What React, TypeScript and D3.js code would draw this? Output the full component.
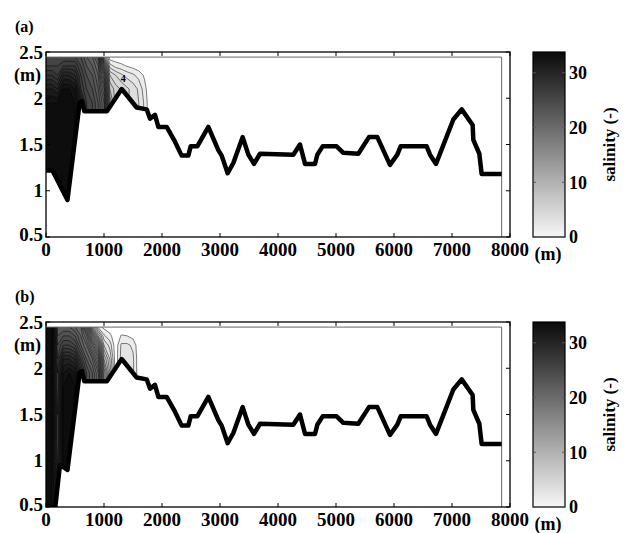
import React from 'react';
import * as d3 from 'd3';

// distance along the channel (m) and height (m) of the salinity grid
const gridX = [0, 100, 200, 300, 400, 500, 600, 700, 800, 900, 1000, 1100, 1200, 1300, 1400, 1500, 1600, 1700, 1800, 1900];
const gridZ = [0.5, 0.9, 1.2, 1.5, 1.8, 1.95, 2.1, 2.25, 2.35, 2.45];

// salinity per grid column, bottom -> top (cells under the bed are clipped away)
const salinityA = [
  [33, 33, 33, 33, 33, 33, 31, 28, 26, 25],
  [33, 33, 33, 33, 33, 33, 31, 28, 26, 25],
  [33, 33, 33, 33, 33, 33, 30, 27, 26, 25],
  [33, 33, 33, 33, 33, 33, 33, 30, 27, 25],
  [33, 33, 33, 33, 33, 33, 33, 30, 27, 25],
  [33, 33, 33, 33, 33, 33, 32, 29, 27, 25],
  [30, 30, 30, 30, 30, 30, 27, 26, 25, 24],
  [26, 26, 26, 26, 26, 26, 25, 24, 23, 22],
  [25, 25, 25, 25, 25, 25, 24, 23, 22, 21],
  [23, 23, 23, 23, 23, 23, 22, 21, 20, 18],
  [20, 20, 20, 20, 20, 20, 18, 15, 11, 5],
  [9, 9, 9, 9, 9, 9, 7, 5, 2.5, 0.2],
  [5.5, 5.5, 5.5, 5.5, 5.5, 5.5, 5.5, 4, 1.6, 0.2],
  [4.8, 4.8, 4.8, 4.8, 4.8, 4.8, 4.8, 3.2, 1.3, 0],
  [4.2, 4.2, 4.2, 4.2, 4.2, 4.2, 4.2, 2.6, 0.9, 0],
  [3.6, 3.6, 3.6, 3.6, 3.6, 3.6, 3.6, 2.2, 0.6, 0],
  [3, 3, 3, 3, 3, 3, 2.8, 1.6, 0.3, 0],
  [1.8, 1.8, 1.8, 1.8, 1.8, 1.8, 1.4, 0.8, 0, 0],
  [0, 0, 0, 0, 0, 0, 0, 0, 0, 0],
  [0, 0, 0, 0, 0, 0, 0, 0, 0, 0],
];

const salinityB = [
  [33, 33, 33, 33, 33, 33, 33, 33, 33, 33],
  [33, 33, 33, 33, 33, 33, 33, 33, 33, 33],
  [31, 28, 27, 27, 26, 26, 25, 24, 23, 22],
  [33, 33, 33, 33, 33, 32, 30, 26, 24, 22],
  [33, 33, 33, 33, 33, 33, 30, 26, 24, 22],
  [33, 33, 33, 33, 33, 32, 29, 25, 23, 21],
  [28, 28, 28, 28, 28, 28, 25, 22, 21, 20],
  [24, 24, 24, 24, 24, 24, 22, 20, 18, 14],
  [22, 22, 22, 22, 22, 22, 20, 16, 12, 6],
  [19, 19, 19, 19, 19, 19, 16, 11, 6, 1.5],
  [10, 10, 10, 10, 10, 10, 7, 4, 2.2, 0.6],
  [5, 5, 5, 5, 5, 5, 4, 2.6, 1.3, 0.3],
  [0.3, 0.3, 0.3, 0.3, 0.3, 0.3, 0.3, 0.3, 0.3, 0.2],
  [2.4, 2.4, 2.4, 2.4, 2.4, 2.4, 2.4, 2.2, 1.1, 0.2],
  [2.6, 2.6, 2.6, 2.6, 2.6, 2.6, 2.6, 2.2, 1.0, 0],
  [2.2, 2.2, 2.2, 2.2, 2.2, 2.2, 2.2, 1.8, 0.6, 0],
  [0.3, 0.3, 0.3, 0.3, 0.3, 0.3, 0.3, 0.2, 0, 0],
  [0, 0, 0, 0, 0, 0, 0, 0, 0, 0],
  [0, 0, 0, 0, 0, 0, 0, 0, 0, 0],
  [0, 0, 0, 0, 0, 0, 0, 0, 0, 0],
];

// bed level (x m, z m)
const bedHeadA = [[0, 1.22], [110, 1.22], [370, 0.9], [580, 1.95], [620, 1.97], [660, 1.86]];
const bedHeadB = [[0, 0.5], [160, 0.5], [240, 0.95], [300, 0.93], [370, 0.9], [580, 1.95], [620, 1.97], [660, 1.86]];
const bedTail = [
  [1050, 1.86], [1305, 2.1], [1563, 1.9], [1736, 1.88], [1793, 1.78], [1879, 1.82], [1937, 1.69],
  [2080, 1.69], [2224, 1.53], [2339, 1.38], [2454, 1.38], [2494, 1.48], [2609, 1.48], [2799, 1.69],
  [2971, 1.44], [3029, 1.38], [3132, 1.19], [3230, 1.3], [3391, 1.58], [3489, 1.39], [3586, 1.29],
  [3690, 1.4], [4264, 1.39], [4379, 1.5], [4466, 1.29], [4638, 1.29], [4678, 1.39], [4770, 1.48],
  [5011, 1.48], [5126, 1.41], [5385, 1.4], [5569, 1.58], [5713, 1.58], [5931, 1.28], [6057, 1.39],
  [6115, 1.48], [6563, 1.48], [6621, 1.39], [6724, 1.29], [7023, 1.77], [7167, 1.88], [7356, 1.71],
  [7368, 1.55], [7471, 1.4], [7511, 1.18], [7856, 1.18],
];
const bedA = bedHeadA.concat(bedTail);
const bedB = bedHeadB.concat(bedTail);

const levels = [1, 2, 3, 4, 5, 6, 7, 8, 9, 10, 11, 12, 13, 14, 15, 16, 17, 18, 19, 20, 21, 22, 23, 24, 25, 26, 27, 28, 29, 30, 31, 32, 33];
const xTicks = [0, 1000, 2000, 3000, 4000, 5000, 6000, 7000, 8000];
const yTicks = [0.5, 1, 1.5, 2, 2.5];
const cbTicks = [0, 10, 20, 30];

const sMax = 33.8;
const waterTop = 2.445;
const xEnd = 7856;

const txt = { fontFamily: "'Liberation Serif'", fontWeight: 700 } as React.CSSProperties;
const plotL = 46, plotR = 510, cbL = 533, cbR = 565;

const grey = d3.scaleLinear<string>().domain([0, sMax]).range(['#f7f7f7', '#0a0a0a']);

function Panel({ tag, top, salinity, bed, labels }: any) {
  const bottom = top + 185;
  const x = d3.scaleLinear().domain([0, 8000]).range([plotL, plotR]);
  const y = d3.scaleLinear().domain([0.5, 2.5]).range([bottom, top]);

  const n = gridX.length, m = gridZ.length;
  const values: number[] = [];
  for (let j = 0; j < m; j++) for (let i = 0; i < n; i++) values.push(salinity[i][j]);
  const gx = d3.scaleLinear().domain(gridX.map((_, i) => i + 0.5)).range(gridX);
  const gz = d3.scaleLinear().domain(gridZ.map((_, j) => j + 0.5)).range(gridZ);
  const proj = d3.geoTransform({
    point(px: number, py: number) {
      (this as any).stream.point(x(gx(px)), y(gz(py)));
    },
  });
  const geo = d3.geoPath(proj);
  const bands = d3.contours().size([n, m]).thresholds(levels)(values);

  const line = d3.line<number[]>().x(d => x(d[0])).y(d => y(d[1]));
  const water = [[0, waterTop], ...bed, [xEnd, waterTop]];
  const clipW = 'water' + tag;
  const clipP = 'plot' + tag;
  const gradId = 'cb' + tag;

  const c = d3.scaleLinear().domain([0, sMax]).range([bottom, top]);
  const stops = d3.range(0, 11).map(k => k / 10);

  return (
    <g>
      <defs>
        <clipPath id={clipW}><path d={line(water as any) + 'Z'} /></clipPath>
        <clipPath id={clipP}><rect x={plotL} y={top} width={plotR - plotL} height={bottom - top} /></clipPath>
        <linearGradient id={gradId} x1="0" y1="1" x2="0" y2="0">
          {stops.map(s => <stop key={s} offset={s} stopColor={grey(s * sMax)} />)}
        </linearGradient>
      </defs>
      <text x={15} y={top - 20} style={txt} fontSize={16}>{'(' + tag + ')'}</text>

      <g clipPath={`url(#${clipW})`}>
        {bands.map((b, k) => (
          <path key={'f' + k} d={geo(b as any) || ''}
            fill={grey(((levels[k]) + (levels[k + 1] ?? sMax)) / 2)} stroke="none" />
        ))}
        {bands.map((b, k) => (
          <path key={'l' + k} d={geo(b as any) || ''} fill="none" stroke="#000" strokeWidth={0.5} />
        ))}
      </g>
      {labels.map((l: any, i: number) => (
        <text key={i} x={x(l[0])} y={y(l[1])} style={txt} fontSize={10}
          textAnchor="middle" dominantBaseline="middle">{l[2]}</text>
      ))}

      <path d={`M${plotL},${y(waterTop)}H${x(xEnd)}V${bottom}`} fill="none" stroke="#666" strokeWidth={1} />
      <g clipPath={`url(#${clipP})`}>
        <path d={line(bed as any) || ''} fill="none" stroke="#000" strokeWidth={4.5} strokeLinejoin="round" />
      </g>

      <rect x={plotL} y={top} width={plotR - plotL} height={bottom - top} fill="none" stroke="#000" strokeWidth={1.3} />
      {xTicks.map(t => (
        <g key={'x' + t}>
          <line x1={x(t)} x2={x(t)} y1={bottom} y2={bottom - 4} stroke="#000" />
          <line x1={x(t)} x2={x(t)} y1={top} y2={top + 4} stroke="#000" />
          <text x={x(t)} y={bottom + 19} textAnchor="middle" style={txt} fontSize={19}>{t}</text>
        </g>
      ))}
      {yTicks.map(t => (
        <g key={'y' + t}>
          <line x1={plotL} x2={plotL + 4} y1={y(t)} y2={y(t)} stroke="#000" />
          <line x1={plotR} x2={plotR - 4} y1={y(t)} y2={y(t)} stroke="#000" />
          <text x={43} y={y(t)} dy={t === 0.5 ? '0.2em' : '0.35em'} textAnchor="end" style={txt} fontSize={19}>{d3.format('')(t)}</text>
        </g>
      ))}
      <text x={41} y={top + 29} textAnchor="end" style={txt} fontSize={18}>(m)</text>
      <text x={548} y={bottom + 23} textAnchor="middle" style={txt} fontSize={18}>(m)</text>

      <rect x={cbL} y={top} width={cbR - cbL} height={bottom - top} fill={`url(#${gradId})`} stroke="#000" strokeWidth={1.2} />
      {cbTicks.map(t => (
        <g key={'cb' + t}>
          <line x1={cbL} x2={cbL + 3} y1={c(t)} y2={c(t)} stroke="#555" />
          <line x1={cbR} x2={cbR - 3} y1={c(t)} y2={c(t)} stroke="#555" />
          <text x={569} y={c(t)} dy="0.35em" style={txt} fontSize={18}>{t}</text>
        </g>
      ))}
      <text transform={`translate(609,${(top + bottom) / 2}) rotate(-90)`} textAnchor="middle" dy="0.35em"
        style={txt} fontSize={17}>salinity (-)</text>
    </g>
  );
}

export default function App() {
  return (
    <svg width={627} height={533} style={{ position: 'absolute', left: 0, top: 0, background: '#fff' }}>
      <rect width={627} height={533} fill="#fff" />
      <Panel tag="a" top={52} salinity={salinityA} bed={bedA} labels={[[1333, 2.2, '4']]} />
      <Panel tag="b" top={322} salinity={salinityB} bed={bedB} labels={[]} />
    </svg>
  );
}
